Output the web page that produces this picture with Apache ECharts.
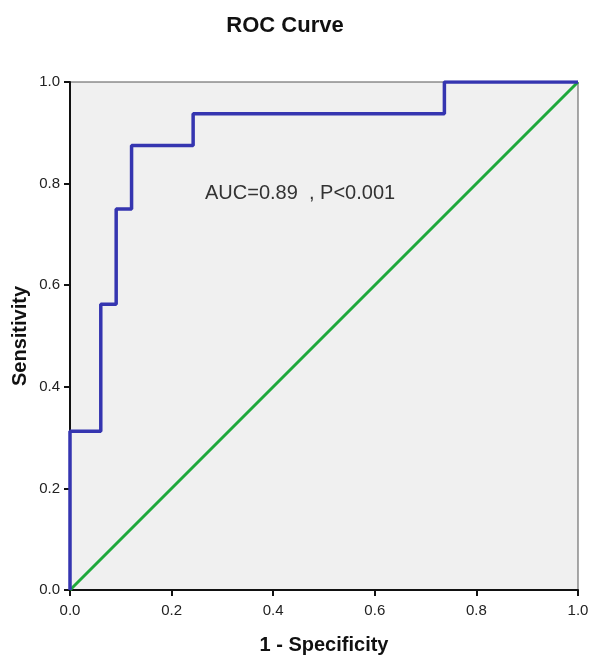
<!DOCTYPE html>
<html>
<head>
<meta charset="utf-8">
<script src="https://cdn.jsdelivr.net/npm/echarts@6/dist/echarts.min.js"></script>
<style>html,body{margin:0;padding:0;background:#fff}#c{width:590px;height:656px}</style>
</head>
<body>
<div id="c"></div>
<script>
// ROC curve step points (1 - specificity, sensitivity)
var rocFpr = [0, 0, 0.0606, 0.0606, 0.0909, 0.0909, 0.1212, 0.1212, 0.2424, 0.2424, 0.737, 0.737, 1];
var rocTpr = [0, 0.3125, 0.3125, 0.5625, 0.5625, 0.75, 0.75, 0.875, 0.875, 0.9375, 0.9375, 1, 1];
// Reference line
var refX = [0, 1];
var refY = [0, 1];
var tickValues = [0, 0.2, 0.4, 0.6, 0.8, 1.0];
var chartTitle = 'ROC Curve';
var annotation = 'AUC=0.89  , P<0.001';
var xName = '1 - Specificity';
var yName = 'Sensitivity';

function zip(a, b) { return a.map(function (v, i) { return [v, b[i]]; }); }

var chart = echarts.init(document.getElementById('c'), null, {renderer: 'canvas'});
var FONT = 'Liberation Sans, Arial, sans-serif';
var axisCommon = {
  type: 'value', min: 0, max: 1, interval: 0.2,
  axisLine: {show: true, lineStyle: {color: '#111', width: 2}},
  axisTick: {show: true, inside: false, length: 6, lineStyle: {color: '#111', width: 2}},
  axisLabel: {color: '#222', fontSize: 15, fontFamily: FONT,
    formatter: function (v) { return v.toFixed(1); }},
  splitLine: {show: false},
  nameLocation: 'middle',
  nameMoveOverlap: false,
  nameTextStyle: {color: '#111', fontSize: 20, fontWeight: 'bold', fontFamily: FONT}
};
chart.setOption({
  animation: false,
  backgroundColor: '#fff',
  grid: {left: 70, right: 12, top: 82, bottom: 66, show: true,
    backgroundColor: '#f0f0f0', borderColor: '#555', borderWidth: 1,
    outerBoundsMode: 'none'},
  xAxis: Object.assign({}, axisCommon, {name: xName, nameGap: 45,
    axisLabel: Object.assign({}, axisCommon.axisLabel, {margin: 13})}),
  yAxis: Object.assign({}, axisCommon, {name: yName, nameGap: 40,
    axisLabel: Object.assign({}, axisCommon.axisLabel, {margin: 10})}),
  graphic: [
    {type: 'text', x: 285, y: 26, style: {text: chartTitle, fill: '#111',
      font: 'bold 22px ' + FONT, align: 'center', verticalAlign: 'middle'}},
    {type: 'text', x: 205, y: 193, z: 10, style: {text: annotation, fill: '#333',
      font: '20px ' + FONT, align: 'left', verticalAlign: 'middle'}}
  ],
  series: [
    {type: 'line', data: zip(refX, refY), symbol: 'none', z: 2,
      lineStyle: {color: '#1fa83c', width: 3}},
    {type: 'line', data: zip(rocFpr, rocTpr), symbol: 'none', z: 3,
      lineStyle: {color: '#3535b0', width: 3.5}}
  ]
});
</script>
</body>
</html>
